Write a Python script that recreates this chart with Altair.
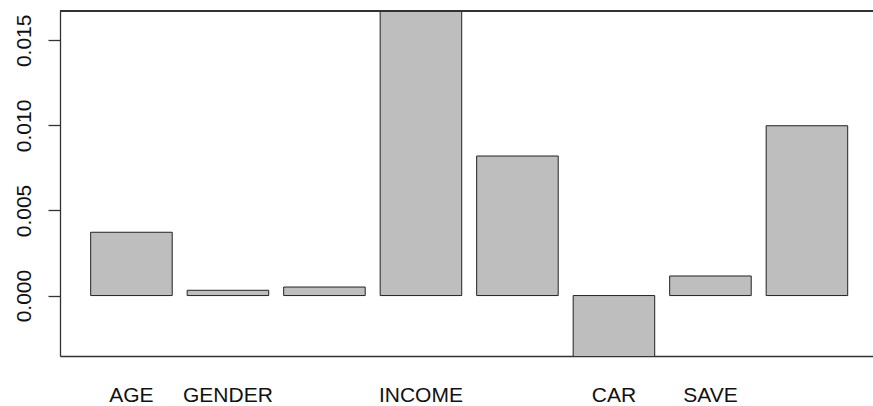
import altair as alt
import pandas as pd

# Bar values (regression-style coefficients) and axis labels
positions = [0, 1, 2, 3, 4, 5, 6, 7]
labels = ["AGE", "GENDER", "", "INCOME", "", "CAR", "SAVE", ""]
values = [0.00372, 0.00031, 0.00050, 0.0195, 0.00820, -0.0048, 0.00115, 0.00998]
y_ticks = [0.0, 0.005, 0.010, 0.015]
y_domain = [-0.003553, 0.016724]

df = pd.DataFrame({"pos": positions, "value": values})

W, H = 813, 345
FONT = "Liberation Sans"
FRAME = "#333333"

label_expr = "[" + ",".join("'" + s + "'" for s in labels) + "][datum.value]"

bars = alt.Chart(df).mark_bar(
    fill="#bebebe", stroke="#222222", strokeWidth=1, clip=True
).encode(
    x=alt.X(
        "pos:O",
        scale=alt.Scale(paddingInner=0.155, paddingOuter=0.29, align=0.548),
        axis=alt.Axis(
            title=None, labelExpr=label_expr, labelAngle=0, ticks=False,
            domain=True, domainColor=FRAME, domainWidth=1.3,
            labelFont=FONT, labelFontSize=21, labelColor="#111111",
            labelPadding=28, labelBaseline="top",
        ),
    ),
    y=alt.Y(
        "value:Q",
        scale=alt.Scale(domain=y_domain, nice=False, zero=False),
        axis=alt.Axis(
            title=None, values=y_ticks, format=".3f", grid=False,
            tickSize=12, tickColor=FRAME, tickWidth=1.3,
            domain=True, domainColor=FRAME, domainWidth=1.3,
            labelAngle=270, labelFont=FONT, labelFontSize=21,
            labelColor="#111111", labelPadding=14,
        ),
    ),
    y2=alt.datum(0),
)

# top edge of the plotting frame
top_line = alt.Chart(df).mark_rule(color=FRAME, strokeWidth=1.3).encode(
    x=alt.value(0), x2=alt.value(W), y=alt.value(0)
)

chart = alt.layer(bars, top_line).properties(
    width=W, height=H,
    autosize=alt.AutoSizeParams(type="none"),
    padding={"left": 60, "top": 11, "right": 0, "bottom": 50},
).configure_view(stroke=None).configure(background="white")

chart.save("out.html", embed_options={"renderer": "svg", "actions": False})
